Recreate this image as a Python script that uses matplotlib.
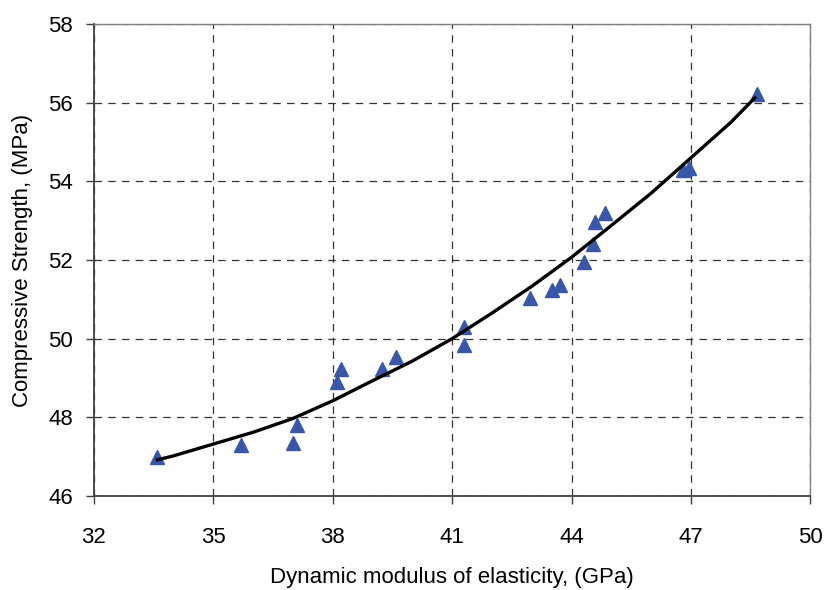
import matplotlib.pyplot as plt

# measured points (GPa, MPa)
modulus = [33.6, 35.7, 37.0, 37.1, 38.1, 38.2, 39.25, 39.6, 41.3, 41.3,
           42.95, 43.5, 43.7, 44.3, 44.55, 44.6, 44.85, 46.8, 46.95, 48.65]
strength = [46.99, 47.30, 47.35, 47.80, 48.90, 49.24, 49.22, 49.53, 50.30, 49.84,
            51.03, 51.24, 51.36, 51.95, 52.40, 52.97, 53.19, 54.30, 54.35, 56.21]

# fitted curve
fit_x = [33.6, 34, 35, 36, 37, 38, 39, 40, 41, 42, 43, 44, 45, 46, 47, 48, 48.6]
fit_y = [46.92, 47.02, 47.32, 47.62, 47.97, 48.42, 48.93, 49.43, 50.0, 50.65,
         51.33, 52.07, 52.88, 53.7, 54.6, 55.5, 56.12]

xticks = [32, 35, 38, 41, 44, 47, 50]
yticks = [46, 48, 50, 52, 54, 56, 58]

plt.rcParams['font.family'] = ['Liberation Sans', 'DejaVu Sans']

fig = plt.figure(figsize=(8.25, 5.9), dpi=100)
ax = fig.add_axes([0.1136, 0.1593, 0.8688, 0.80])

ax.plot(modulus, strength, linestyle='none', marker='^', markersize=10,
        color='#3A56A8', zorder=3)
ax.plot(fit_x, fit_y, color='black', linewidth=2.4, zorder=4)

ax.set_xlim(32, 50)
ax.set_ylim(46, 58)
ax.set_xticks(xticks)
ax.set_yticks(yticks)
ax.tick_params(axis='both', labelsize=16, direction='out', length=6,
               width=1, color='#404040')
ax.tick_params(axis='x', pad=16)
ax.tick_params(axis='y', pad=9)

ax.grid(True, color='black', linestyle=(0, (6, 5)), linewidth=0.9, alpha=0.8)
ax.set_axisbelow(True)

for side in ['top', 'right']:
    ax.spines[side].set_color('#808080')
    ax.spines[side].set_linewidth(1)
for side in ['left', 'bottom']:
    ax.spines[side].set_color('#404040')
    ax.spines[side].set_linewidth(1.3)

ax.set_xlabel('Dynamic modulus of elasticity, (GPa)', fontsize=16, labelpad=14)
ax.set_ylabel('Compressive Strength, (MPa)', fontsize=16, labelpad=11)

fig.savefig('out.png', dpi=100)
